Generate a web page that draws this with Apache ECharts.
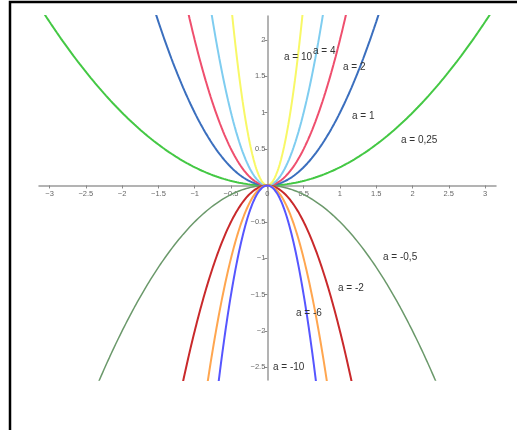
<!DOCTYPE html>
<html>
<head>
<meta charset="utf-8">
<script src="https://cdn.jsdelivr.net/npm/echarts@6/dist/echarts.min.js"></script>
<style>
  html, body { margin: 0; padding: 0; background: #fff; }
  #main { width: 517px; height: 430px; }
</style>
</head>
<body>
<div id="main"></div>
<script>
// coefficients of y = a * x^2, one curve each
var coefA = [0.25, 1, 2, 4, 10, -0.5, -2, -4, -6];
var curveColors = ['#44c844', '#3b6fbe', '#ef4f6e', '#7fcdf0', '#f8f866', '#6b996b', '#c9292b', '#ffa64f', '#5656ff'];
var curveWidths = [2, 2, 2, 2, 2, 1.5, 2, 2, 2];
var xTicks = [-3, -2.5, -2, -1.5, -1, -0.5, 0, 0.5, 1, 1.5, 2, 2.5, 3];
var yTicks = [-2.5, -2, -1.5, -1, -0.5, 0.5, 1, 1.5, 2];
var curveLabels = ['a = 10', 'a = 4', 'a = 2', 'a = 1', 'a = 0,25', 'a = -0,5', 'a = -2', 'a = -6', 'a = -10'];

// x samples for the curves
var xs = [];
for (var i = -320; i <= 320; i += 1) xs.push(i / 100);

var myChart = echarts.init(document.getElementById('main'));

var series = [];
for (var k = 0; k < coefA.length; k++) {
    var pts = [];
    for (var j = 0; j < xs.length; j++) {
        pts.push([xs[j], coefA[k] * xs[j] * xs[j]]);
    }
    series.push({
        type: 'line',
        data: pts,
        showSymbol: false,
        clip: true,
        silent: true,
        lineStyle: { color: curveColors[k], width: curveWidths[k] },
        z: 3
    });
}

function fmt(v) {
    return String(v).replace('-', '\u2212');
}

// label spots (pixels)
var labelPos = [[284, 57], [313, 51], [343, 67], [352, 116], [401, 140], [383, 257], [338, 288], [296, 313], [273, 367]];
var graphics = [{
    type: 'rect',
    shape: { x: 10, y: 2, width: 700, height: 700 },
    style: { fill: 'none', stroke: '#000', lineWidth: 2.5 },
    z: 100
}];
for (var m = 0; m < curveLabels.length; m++) {
    graphics.push({
        type: 'text',
        x: labelPos[m][0],
        y: labelPos[m][1],
        style: {
            text: curveLabels[m],
            fill: '#333',
            font: '10px "Liberation Sans", Arial, sans-serif',
            verticalAlign: 'middle'
        },
        z: 50
    });
}

var gridLeft = 39, gridTop = 16, gridBottom = 50;
var axisLineStyle = { color: '#9a9a9a', width: 1.5 };
var option = {
    animation: false,
    backgroundColor: '#fff',
    grid: { left: gridLeft, right: 21, top: gridTop, bottom: gridBottom },
    xAxis: {
        type: 'value',
        min: -3.145,
        max: 3.15,
        splitLine: { show: false },
        axisLine: { onZero: false, lineStyle: axisLineStyle },
        axisTick: { show: true, length: 3, customValues: xTicks, lineStyle: { color: '#888' } },
        axisLabel: {
            customValues: xTicks,
            formatter: fmt,
            color: '#666',
            fontSize: 7.5,
            margin: 4,
            fontFamily: '"Liberation Sans", Arial, sans-serif'
        }
    },
    yAxis: {
        type: 'value',
        min: -2.675,
        max: 2.33,
        splitLine: { show: false },
        axisLine: { onZero: false, lineStyle: axisLineStyle },
        axisTick: { show: true, length: 3, customValues: yTicks, lineStyle: { color: '#888' } },
        axisLabel: {
            customValues: yTicks,
            formatter: fmt,
            color: '#666',
            fontSize: 7.5,
            margin: 2,
            fontFamily: '"Liberation Sans", Arial, sans-serif'
        }
    },
    graphic: graphics,
    series: series
};
myChart.setOption(option);

// move both axes onto the origin
var origin = myChart.convertToPixel({ gridIndex: 0 }, [0, 0]);
myChart.setOption({
    xAxis: { offset: -((430 - gridBottom) - origin[1]) },
    yAxis: { offset: -(origin[0] - gridLeft) }
});
</script>
</body>
</html>
